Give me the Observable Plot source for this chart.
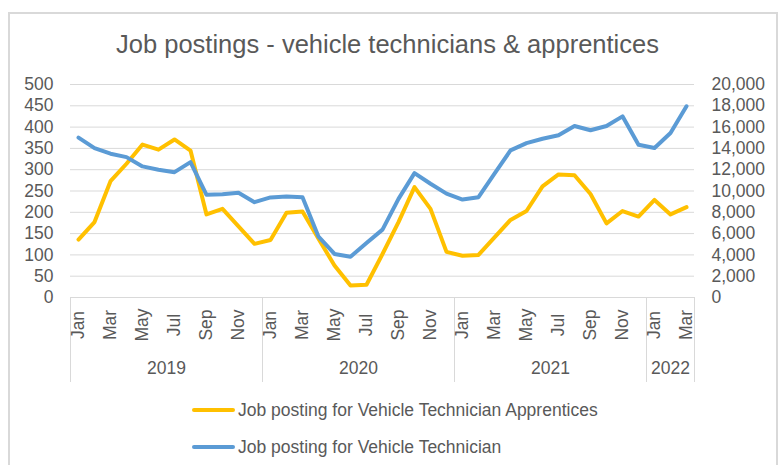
<!DOCTYPE html>
<html>
<head>
<meta charset="utf-8">
<script src="https://cdn.jsdelivr.net/npm/d3@7"></script>
<script src="https://cdn.jsdelivr.net/npm/@observablehq/plot@0.6"></script>
<style>
  body { margin: 0; background: #fff; overflow: hidden; font-family: "Liberation Sans", Arial, sans-serif; color: #595959; }
  #wrap { position: relative; width: 780px; height: 465px; }
  #frame { position: absolute; left: 8px; top: 12px; width: 770px; height: 480px; border: 2px solid #d9d9d9; box-sizing: border-box; }
  #title { position: absolute; left: 0; top: 32px; width: 775px; text-align: center; font-size: 25.5px; line-height: 1; color: #595959; }
  #chart { position: absolute; left: 0; top: 70px; }
  #legend { position: absolute; left: 192px; top: 400px; }
  .row { display: flex; align-items: center; height: 20px; margin-bottom: 17px; font-size: 17.5px; color: #595959; white-space: nowrap; }
  .sw { width: 43px; height: 4px; border-radius: 2px; margin-right: 3px; }
</style>
</head>
<body>
<div id="wrap">
  <div id="frame"></div>
  <div id="title">Job postings - vehicle technicians &amp; apprentices</div>
  <div id="chart"></div>
  <div id="legend"></div>
</div>
<script>
const monthNames = ["Jan","Feb","Mar","Apr","May","Jun","Jul","Aug","Sep","Oct","Nov","Dec"];
const years = ["2019","2020","2021","2022"];
const periods = years.flatMap(y => monthNames.map(m => `${m} ${y}`)).slice(0, 39);

const apprentices = [
  136, 177, 273, 314, 359, 347, 371, 345, 195, 208, 167, 126,
  135, 199, 202, 138, 75, 28, 30, 102, 177, 259, 208, 107,
  98, 100, 141, 182, 203, 261, 289, 287, 243, 174, 203, 190,
  229, 195, 212
];
const technicians = [
  15010, 14030, 13500, 13180, 12310, 12000, 11770, 12710, 9640, 9700, 9830, 8950,
  9400, 9480, 9420, 5715, 4090, 3830, 5120, 6375, 9265, 11680, 10680, 9750,
  9200, 9420, 11620, 13810, 14500, 14910, 15230, 16100, 15700, 16100, 17010, 14350,
  14030, 15440, 17950
];
const leftTicks = [0, 50, 100, 150, 200, 250, 300, 350, 400, 450, 500];
const rightTicks = [0, 2000, 4000, 6000, 8000, 10000, 12000, 14000, 16000, 18000, 20000];
const seriesNames = ["Job posting for Vehicle Technician Apprentices", "Job posting for Vehicle Technician"];
const seriesColors = ["#FFC000", "#5B9BD5"];

const ratio = 20000 / 500;
const rows = periods.map((p, i) => ({period: p, apprentices: apprentices[i], technicians: technicians[i]}));
const labelMonths = periods.filter((_, i) => i % 2 === 0);
const yearStarts = periods.filter(p => p.startsWith("Jan"));
const lastPeriod = periods[periods.length - 1];
const yearCenters = years.slice(0, 3).map(y => `Jun ${y}`);
const lastYearCenter = `Feb ${years[3]}`;
const fmt = d3.format(",");
const fs = 17.5;

const chart = Plot.plot({
  width: 780,
  height: 320,
  marginLeft: 70,
  marginRight: 86,
  marginTop: 14,
  marginBottom: 93,
  style: {fontFamily: "Liberation Sans, Arial, sans-serif", fontSize: fs + "px", color: "#595959", background: "transparent", overflow: "visible"},
  x: {type: "point", domain: periods, padding: 0.5, axis: null},
  y: {domain: [0, 500], axis: null},
  marks: [
    Plot.gridY(leftTicks, {stroke: "#d9d9d9", strokeOpacity: 1, strokeWidth: 1}),
    Plot.axisY(leftTicks, {anchor: "left", tickSize: 0, tickPadding: 17, fontSize: fs, fill: "#595959", label: null}),
    Plot.axisY(rightTicks.map(v => v / ratio), {anchor: "right", tickSize: 0, tickPadding: 17, fontSize: fs, fill: "#595959", label: null, textAnchor: "start", tickFormat: d => fmt(Math.round(d * ratio))}),
    Plot.ruleY([0], {stroke: "#d9d9d9", strokeWidth: 1}),
    Plot.ruleX(yearStarts, {x: d => d, insetTop: 213, insetBottom: -85, dx: -8, stroke: "#d9d9d9", strokeWidth: 1}),
    Plot.ruleX([lastPeriod], {x: d => d, insetTop: 213, insetBottom: -85, dx: 8, stroke: "#d9d9d9", strokeWidth: 1}),
    Plot.text(labelMonths, {x: d => d, text: d => d.slice(0, 3), frameAnchor: "bottom", rotate: -90, dy: 27.5, textAnchor: "middle", lineAnchor: "middle", fontSize: fs, fill: "#595959"}),
    Plot.text(yearCenters, {x: d => d, text: d => d.slice(4), frameAnchor: "bottom", dy: 70.5, dx: 8, lineAnchor: "middle", fontSize: fs, fill: "#595959"}),
    Plot.text([lastYearCenter], {x: d => d, text: d => d.slice(4), frameAnchor: "bottom", dy: 70.5, lineAnchor: "middle", fontSize: fs, fill: "#595959"}),
    Plot.line(rows, {x: "period", y: "apprentices", stroke: seriesColors[0], strokeWidth: 4, strokeLinejoin: "round", strokeLinecap: "round"}),
    Plot.line(rows, {x: "period", y: d => d.technicians / ratio, stroke: seriesColors[1], strokeWidth: 4, strokeLinejoin: "round", strokeLinecap: "round"})
  ]
});
document.getElementById("chart").appendChild(chart);

const legend = document.getElementById("legend");
seriesNames.forEach((name, i) => {
  const row = document.createElement("div");
  row.className = "row";
  const sw = document.createElement("span");
  sw.className = "sw";
  sw.style.background = seriesColors[i];
  const t = document.createElement("span");
  t.textContent = name;
  row.appendChild(sw);
  row.appendChild(t);
  legend.appendChild(row);
});
</script>
</body>
</html>
